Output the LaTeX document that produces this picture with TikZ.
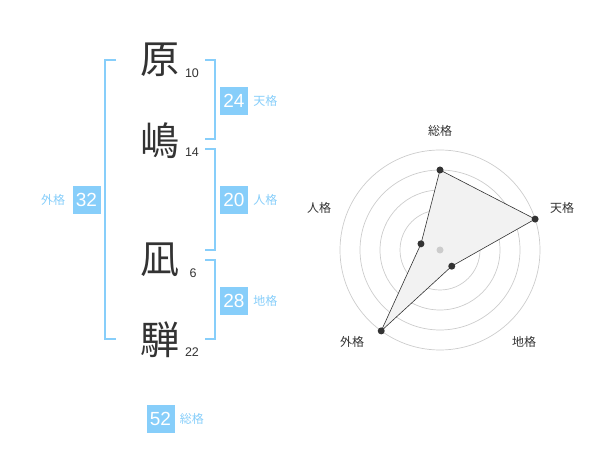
\documentclass[tikz,border=0pt]{standalone}
\usepackage{fontspec}
\setmainfont{Liberation Sans}
\newfontfamily\jpfont{Noto Sans CJK JP}
\usetikzlibrary{positioning}
\definecolor{skyline}{RGB}{135,206,250}
\definecolor{inkgray}{RGB}{51,51,51}
\definecolor{ringgray}{RGB}{204,204,204}
\definecolor{areagray}{RGB}{242,242,242}
\tikzset{
  kanji/.style={inner sep=0pt,text=inkgray,font=\jpfont\fontsize{39}{39}\selectfont},
  strokes/.style={inner sep=0pt,text=inkgray,font=\fontsize{12.5}{12.5}\selectfont},
  scorebox/.style={fill=skyline,text=white,minimum size=28pt,inner sep=0pt,font=\fontsize{19}{19}\selectfont},
  kaku/.style={inner sep=0pt,text=skyline,font=\jpfont\fontsize{12}{12}\selectfont},
  axislabel/.style={inner sep=0pt,text=inkgray,font=\jpfont\fontsize{12}{12}\selectfont},
  bracket/.style={draw=skyline,line width=1.6pt},
  ring/.style={draw=ringgray,line width=0.7pt},
  dot/.style={circle,fill=inkgray,inner sep=0pt,minimum size=7pt}
}
\begin{document}
\begin{tikzpicture}[x=1pt,y=-1pt]
\useasboundingbox (0,0) rectangle (600,470);

% name
\node[kanji] (c1) at (160,60) {原};
\node[kanji] (c2) at (160,141) {嶋};
\node[kanji] (c3) at (160,260) {凪};
\node[kanji] (c4) at (160,340) {騨};
\node[strokes] (n1) at (192,73) {10};
\node[strokes] (n2) at (192,152) {14};
\node[strokes] (n3) at (193,273) {6};
\node[strokes] (n4) at (192,352) {22};

% brackets
\draw[bracket] (116,60) -- (105,60) -- (105,339) -- (116,339);
\draw[bracket] (205,60) -- (215,60) -- (215,139) -- (205,139);
\draw[bracket] (205,149) -- (215,149) -- (215,250) -- (205,250);
\draw[bracket] (205,260) -- (215,260) -- (215,339) -- (205,339);

% scores
\node[scorebox] (ten) at (234,101) {24};
\node[kaku,right=5pt of ten] {天格};
\node[scorebox] (jin) at (234,200) {20};
\node[kaku,right=5pt of jin] {人格};
\node[scorebox] (chi) at (234,301) {28};
\node[kaku,right=5pt of chi] {地格};
\node[scorebox] (gai) at (86.5,200) {32};
\node[kaku,left=7pt of gai] {外格};
\node[scorebox] (sou) at (160.5,419) {52};
\node[kaku,right=5pt of sou] {総格};

% radar
\begin{scope}[shift={(440,250)}]
  \foreach \r in {20,40,60,80,100}
    \draw[ring] (0,0) circle[radius=\r pt];
  \coordinate (psou) at (90:80pt);
  \coordinate (pten) at (18:100pt);
  \coordinate (pchi) at (-54:20pt);
  \coordinate (pgai) at (-126:100pt);
  \coordinate (pjin) at (162:20pt);
  \draw[fill=areagray,draw=inkgray,line width=0.6pt]
    (psou) -- (pten) -- (pchi) -- (pgai) -- (pjin) -- cycle;
  \foreach \p in {psou,pten,pchi,pgai,pjin}
    \node[dot] at (\p) {};
  \node[circle,fill=ringgray,inner sep=0pt,minimum size=7pt] (ctr) at (0,0) {};
\end{scope}
\node[axislabel] (lsou) at (440,131) {総格};
\node[axislabel] (lten) at (562,208) {天格};
\node[axislabel] (ljin) at (319,208) {人格};
\node[axislabel] (lgai) at (352,342) {外格};
\node[axislabel] (lchi) at (524,342) {地格};
\end{tikzpicture}
\end{document}
